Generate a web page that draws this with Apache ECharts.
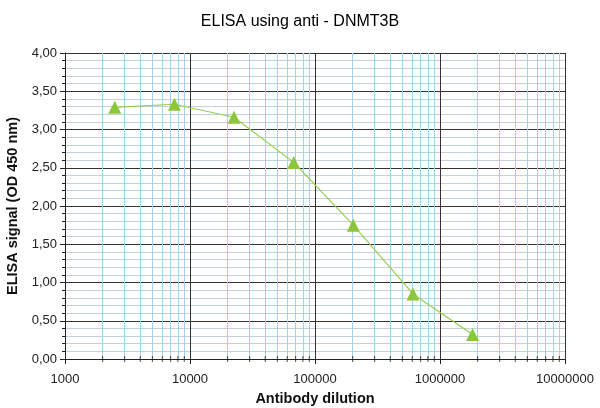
<!DOCTYPE html>
<html>
<head>
<meta charset="utf-8">
<script src="https://cdn.jsdelivr.net/npm/echarts@6/dist/echarts.min.js"></script>
<style>
  html, body { margin: 0; padding: 0; background: #fff; }
  #chart { width: 600px; height: 408px; }
</style>
</head>
<body>
<div id="chart"></div>
<script>
// 数据
const dilutions = [2500, 7500, 22500, 67500, 202500, 607500, 1822500];
const signal = [3.29, 3.33, 3.16, 2.57, 1.75, 0.85, 0.32];
const decades = [1000, 10000, 100000, 1000000, 10000000];

// 2..9 倍的次网格线
const minorX = [];
decades.slice(0, -1).forEach((d) => {
  for (let k = 2; k <= 9; k++) minorX.push(d * k);
});

const chart = echarts.init(document.getElementById('chart'));
const font = 'Liberation Sans, Arial, sans-serif';

chart.setOption({
  animation: false,
  title: {
    text: 'ELISA using anti - DNMT3B',
    left: 'center',
    top: 9,
    textStyle: { fontFamily: font, fontSize: 16, fontWeight: 'normal', color: '#000' },
  },
  grid: { left: 65, right: 35, top: 53, bottom: 49, outerBoundsMode: 'none' },
  xAxis: {
    type: 'log',
    logBase: 10,
    min: 1000,
    max: 10000000,
    name: 'Antibody dilution',
    nameLocation: 'middle',
    nameGap: 32,
    nameTextStyle: { fontFamily: font, fontSize: 14.5, fontWeight: 'bold', color: '#111' },
    axisLine: { lineStyle: { color: '#222', width: 1 } },
    axisTick: { show: true, length: 5, lineStyle: { color: '#222' } },
    axisLabel: {
      fontFamily: font, fontSize: 13, color: '#222', margin: 14,
      formatter: (v) => String(Math.round(v)),
    },
    splitLine: { show: true, lineStyle: { color: '#333', width: 1 } },
  },
  yAxis: {
    type: 'value',
    min: 0,
    max: 4,
    interval: 0.5,
    name: 'ELISA signal (OD 450 nm)',
    nameLocation: 'middle',
    nameGap: 45,
    nameTextStyle: { fontFamily: font, fontSize: 14.5, fontWeight: 'bold', color: '#111' },
    axisLine: { show: true, lineStyle: { color: '#222', width: 1 } },
    axisTick: { show: true, length: 5, lineStyle: { color: '#222' } },
    minorTick: { show: true, splitNumber: 5, length: 3, lineStyle: { color: '#222' } },
    axisLabel: {
      fontFamily: font, fontSize: 13, color: '#222', margin: 8,
      formatter: (v) => v.toFixed(2).replace('.', ','),
    },
    splitLine: { show: true, lineStyle: { color: '#333', width: 1 } },
    minorSplitLine: { show: true, lineStyle: { color: '#c5d0d8', width: 1 } },
  },
  series: [
    {
      // 次网格线 + x 轴小刻度
      type: 'scatter',
      data: minorX.map((x) => [x, 0]),
      symbol: 'rect',
      symbolSize: [1, 6],
      itemStyle: { color: '#222' },
      clip: false,
      silent: true,
      z: 1,
      markLine: {
        silent: true,
        symbol: 'none',
        label: { show: false },
        lineStyle: { color: '#9fd3ef', type: 'solid', width: 1 },
        data: minorX.map((x) => ({ xAxis: x })),
        z: 0,
      },
    },
    {
      type: 'line',
      data: dilutions.map((x, i) => [x, signal[i]]),
      symbol: 'triangle',
      symbolSize: 13,
      lineStyle: { color: '#92d050', width: 1.2 },
      itemStyle: { color: '#8cc63f' },
      z: 5,
    },
  ],
});
</script>
</body>
</html>
